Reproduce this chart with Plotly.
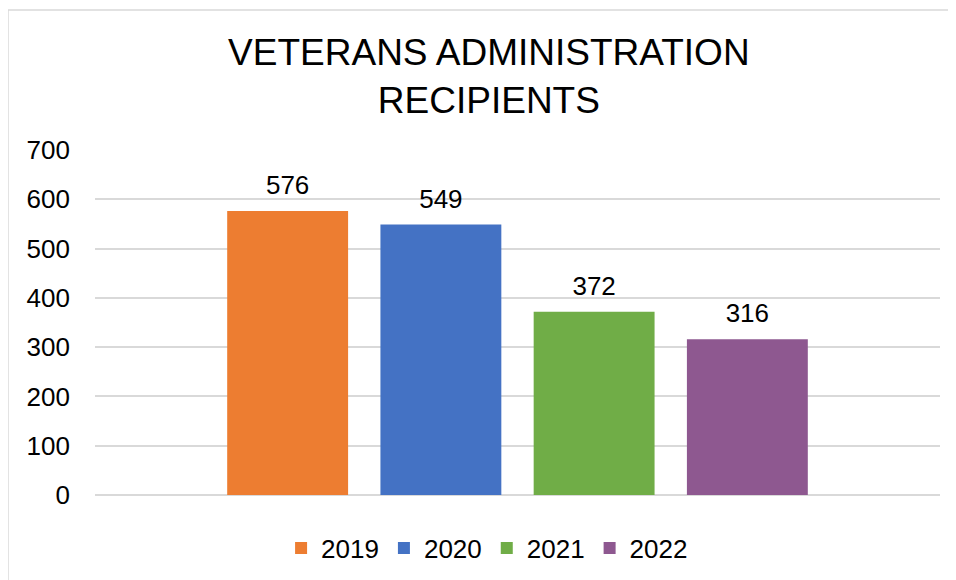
import plotly.graph_objects as go

years = ["2019", "2020", "2021", "2022"]
values = [576, 549, 372, 316]
colors = ["#ED7D31", "#4472C4", "#70AD47", "#8E5890"]
category = ["Recipients"]

FONT = "Liberation Sans, Arial"

fig = go.Figure()
for yr, v, c in zip(years, values, colors):
    fig.add_trace(go.Bar(
        name=yr, x=category, y=[v], marker=dict(color=c, line=dict(width=0)),
        offsetgroup=yr,
    ))
for yr, v in zip(years, values):
    fig.add_trace(go.Scatter(
        x=category, y=[v], mode="markers+text", text=[str(v)], textposition="top center",
        marker=dict(size=15, color="rgba(0,0,0,0)"),
        textfont=dict(size=26, color="#000000", family=FONT),
        offsetgroup=yr, showlegend=False, cliponaxis=False, hoverinfo="skip",
    ))

fig.update_layout(
    width=956, height=580,
    margin=dict(l=87, r=24, t=142, b=93),
    paper_bgcolor="white", plot_bgcolor="white",
    barmode="group", bargap=0.2746, bargroupgap=0.211,
    scattermode="group", scattergap=0.2746,
    font=dict(family=FONT, size=26, color="#000000"),
    title=dict(text="VETERANS ADMINISTRATION<br>RECIPIENTS", x=0.503, xanchor="center",
               y=0.902, yanchor="middle", yref="container",
               font=dict(size=37, family=FONT, color="#000000")),
    showlegend=True,
    legend=dict(orientation="h", x=0.464, xanchor="center", y=-0.1536, yanchor="middle",
                font=dict(size=26), itemwidth=30, traceorder="normal"),
    xaxis=dict(showticklabels=False, showgrid=False, zeroline=False, showline=False,
               range=[-0.5, 0.5]),
    yaxis=dict(range=[0, 700], dtick=100, showgrid=True, gridcolor="#D9D9D9", gridwidth=1.5,
               zeroline=True, zerolinecolor="#D9D9D9", zerolinewidth=1.5, showline=False,
               ticks="", ticklabelstandoff=24, tickfont=dict(size=26)),
    shapes=[dict(type="rect", xref="paper", yref="paper", x0=-0.103, x1=1.2, y0=-1.0, y1=1.4058,
                 line=dict(color="#D9D9D9", width=1.5), fillcolor="rgba(0,0,0,0)", layer="below")],
)

fig.write_html("out.html")
